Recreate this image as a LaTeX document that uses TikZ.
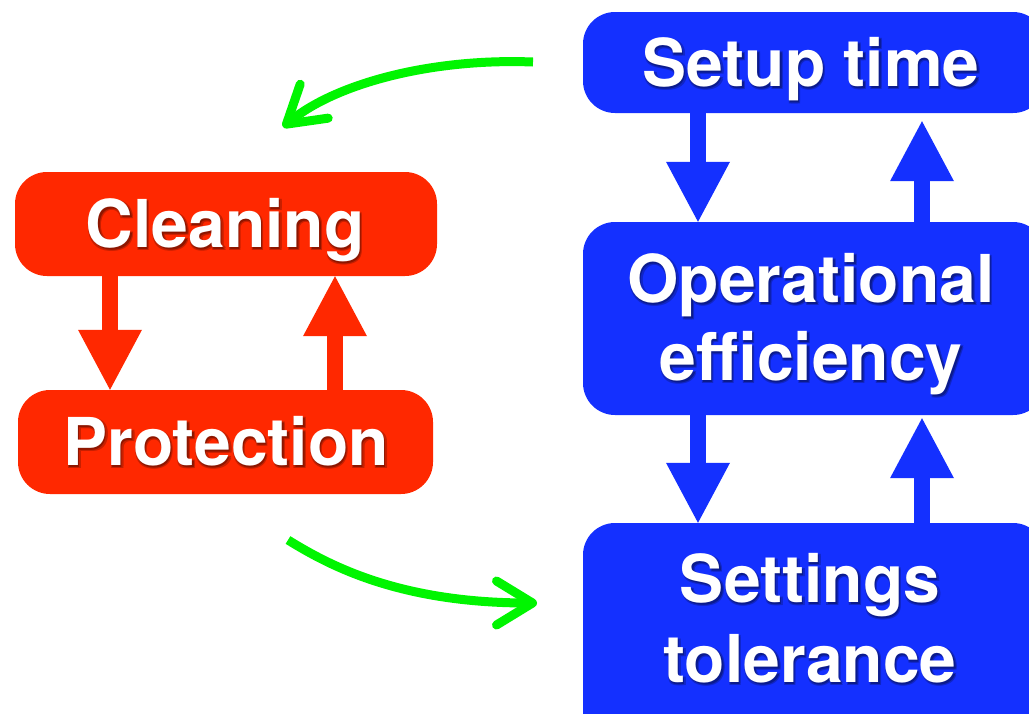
\documentclass[tikz,border=0pt]{standalone}
\usepackage{fontspec}
\setmainfont{TeX Gyre Heros}
\usetikzlibrary{arrows.meta,calc}

\definecolor{boxred}{RGB}{255,40,0}
\definecolor{boxblue}{RGB}{20,48,255}
\definecolor{flowgreen}{RGB}{0,245,0}
\colorlet{redshadeA}{boxred!78!black}
\colorlet{redshadeB}{boxred!55!black}
\colorlet{blueshadeA}{boxblue!78!black}
\colorlet{blueshadeB}{boxblue!55!black}

% one copy of the text, shifted right/down, as a zero-width overlay
\newcommand\shadecopy[4]{\rlap{\hspace*{#1pt}\raisebox{-#2pt}{\color{#3}#4}}}
% white text over a soft dark drop shadow: shade prefix, text
\newcommand\shadowed[2]{%
  \shadecopy{0.3}{1.3}{#1shadeA}{#2}%
  \shadecopy{2.7}{1.3}{#1shadeA}{#2}%
  \shadecopy{0.3}{3.7}{#1shadeA}{#2}%
  \shadecopy{2.7}{3.7}{#1shadeA}{#2}%
  \shadecopy{1.5}{2.5}{#1shadeB}{#2}%
  #2}

\begin{document}
\begin{tikzpicture}[x=1pt, y=-1pt,
  box/.style={rectangle, rounded corners=32pt, inner sep=0pt, draw=none},
  redbox/.style={box, fill=boxred},
  bluebox/.style={box, fill=boxblue},
  lbl/.style={inner sep=0pt, anchor=base, text=white,
              font=\bfseries\fontsize{66}{78}\selectfont},
  blockarrow/.style={line width=16pt,
              -{Triangle[length=60pt,width=64pt,line width=0pt]}},
  redflow/.style={blockarrow, draw=boxred},
  blueflow/.style={blockarrow, draw=boxblue},
  greenflow/.style={line width=9pt, draw=flowgreen,
              -{Straight Barb[length=36pt,width=44pt,round]}}]

\useasboundingbox (0,0) rectangle (1029,713);
\clip (0,0) rectangle (1029,713);

% left loop
\node[redbox, minimum width=422pt, minimum height=104pt] (clean) at (226,224) {};
\node[redbox, minimum width=415pt, minimum height=104pt] (prot) at (225.5,442) {};
\node[lbl] (tclean) at (225,247) {\shadowed{red}{Cleaning}};
\node[lbl] (tprot) at (226,465) {\shadowed{red}{Protection}};

\draw[redflow] (clean.south -| 110,0) -- (prot.north -| 110,0);
\draw[redflow] (prot.north -| 335,0) -- (clean.south -| 335,0);

% right chain
\node[bluebox, minimum width=462pt, minimum height=101pt] (setup) at (814,62.5) {};
\node[bluebox, minimum width=462pt, minimum height=193pt] (oper) at (814,318.5) {};
\node[bluebox, minimum width=462pt, minimum height=222pt] (sett) at (814,634) {};
\node[lbl] (tsetup) at (811,86) {\shadowed{blue}{Setup time}};
\node[lbl] (toper) at (811,302) {\shadowed{blue}{Operational}};
\node[lbl] (teff) at (811,380) {\shadowed{blue}{efficiency}};
\node[lbl] (tsett) at (810,602) {\shadowed{blue}{Settings}};
\node[lbl] (ttol) at (810,682) {\shadowed{blue}{tolerance}};

\draw[blueflow] (setup.south -| 698,0) -- (oper.north -| 698,0);
\draw[blueflow, shorten >=8pt] (oper.north -| 922,0) -- (setup.south -| 922,0);
\draw[blueflow] (oper.south -| 698,0) -- (sett.north -| 698,0);
\draw[blueflow, shorten >=3pt] (sett.north -| 922,0) -- (oper.south -| 922,0);

% green links between the two groups
\coordinate (g1s) at (533,62);
\coordinate (g1e) at (283,127);
\draw[greenflow] (g1s) .. controls (430,58) and (335,84) .. (g1e);
\coordinate (g2s) at (288,540);
\coordinate (g2e) at (537,603);
\draw[greenflow] (g2s) .. controls (330,566) and (400,603) .. (g2e);

\end{tikzpicture}
\end{document}
